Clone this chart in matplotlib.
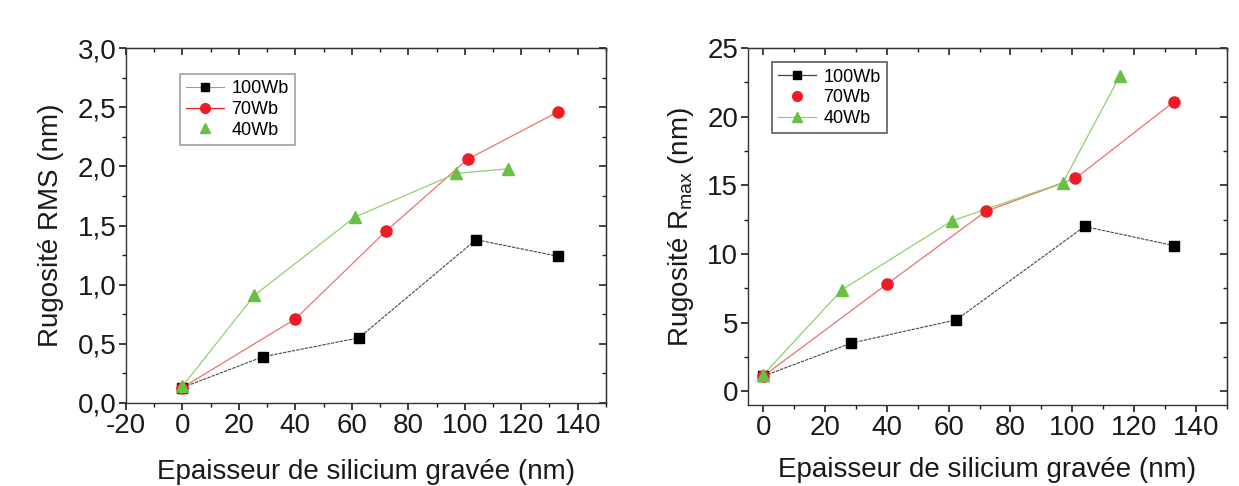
import matplotlib.pyplot as plt
from matplotlib.lines import Line2D
from matplotlib.ticker import FuncFormatter, MultipleLocator

plt.rcParams['font.family'] = ['Liberation Sans', 'DejaVu Sans']
plt.rcParams['mathtext.default'] = 'regular'
plt.rcParams['axes.unicode_minus'] = False

# Data
x_100 = [0, 28.5, 62.5, 104, 133]
x_70 = [0, 40, 72, 101, 133]
x_40 = [0, 25.5, 61, 97, 115.5]

rms_100 = [0.13, 0.39, 0.55, 1.38, 1.24]
rms_70 = [0.13, 0.71, 1.45, 2.06, 2.46]
rms_40 = [0.14, 0.91, 1.57, 1.94, 1.98]

rmax_100 = [1.1, 3.5, 5.2, 12.0, 10.6]
rmax_70 = [1.1, 7.8, 13.1, 15.5, 21.1]
rmax_40 = [1.2, 7.4, 12.4, 15.2, 23.0]

labels = ['100Wb', '70Wb', '40Wb']
red = '#ee1c25'
green = '#6abf45'
black = '#000000'
txt = '#1a1a1a'

fig = plt.figure(figsize=(12.39, 4.86), dpi=100)
ax1 = fig.add_axes([0.1017, 0.171, 0.3873, 0.730])
ax2 = fig.add_axes([0.6037, 0.167, 0.3863, 0.734])


def style_axes(ax, xmaj, xmin, ymaj, ymin):
    for s in ax.spines.values():
        s.set_linewidth(1.0)
        s.set_color('#333333')
    ax.xaxis.set_major_locator(MultipleLocator(xmaj))
    ax.xaxis.set_minor_locator(MultipleLocator(xmin))
    ax.yaxis.set_major_locator(MultipleLocator(ymaj))
    ax.yaxis.set_minor_locator(MultipleLocator(ymin))
    ax.tick_params(which='both', direction='out', labelsize=20, colors=txt, pad=2)
    ax.tick_params(which='major', length=5, width=1.2)
    ax.tick_params(which='minor', length=3, width=1.0)
    # top/right ticks pointing inward
    top = ax.secondary_xaxis('top')
    right = ax.secondary_yaxis('right')
    top.xaxis.set_major_locator(MultipleLocator(xmaj))
    top.xaxis.set_minor_locator(MultipleLocator(xmin))
    right.yaxis.set_major_locator(MultipleLocator(ymaj))
    right.yaxis.set_minor_locator(MultipleLocator(ymin))
    for a in (top, right):
        a.tick_params(which='both', direction='in', labelleft=False, labelright=False,
                      labeltop=False, labelbottom=False, colors='#222222')
        a.tick_params(which='major', length=5, width=1.2)
        a.tick_params(which='minor', length=3, width=1.0)


def draw(ax, y100, y70, y40):
    ax.plot(x_100, y100, color='#444444', lw=0.8, ls=(0, (3, 1)), zorder=2)
    ax.plot(x_100, y100, ls='none', marker='s', ms=7, color=black, zorder=3)
    ax.plot(x_70, y70, color='#f07070', lw=0.9, zorder=2)
    ax.plot(x_70, y70, ls='none', marker='o', ms=8, color=red, zorder=3)
    ax.plot(x_40, y40, color='#8fd070', lw=0.9, zorder=2)
    ax.plot(x_40, y40, ls='none', marker='^', ms=8, color=green, zorder=3)


# Left: RMS
draw(ax1, rms_100, rms_70, rms_40)
ax1.set_xlim(-20, 150)
ax1.set_ylim(0, 3.0)
style_axes(ax1, 20, 10, 0.5, 0.25)
ax1.yaxis.set_major_formatter(FuncFormatter(lambda v, p: f'{v:.1f}'.replace('.', ',')))
ax1.set_xlabel('Epaisseur de silicium gravée (nm)', fontsize=20, labelpad=15, color=txt)
ax1.set_ylabel('Rugosité RMS (nm)', fontsize=20, labelpad=10, color=txt)

h1 = [Line2D([], [], color='#999999', lw=0.8, marker='s', ms=6, mfc=black, mec=black),
      Line2D([], [], color=red, lw=0.9, marker='o', ms=7, mfc=red, mec=red),
      Line2D([], [], color='none', marker='^', ms=7, mfc=green, mec=green)]
leg1 = ax1.legend(h1, labels, loc='upper left', bbox_to_anchor=(0.1125, 0.927), fontsize=13,
                  frameon=True, fancybox=False, edgecolor='#888888', handlelength=2.1,
                  handletextpad=0.4, borderpad=0.35, labelspacing=0.2, borderaxespad=0)
leg1.get_frame().set_linewidth(1.2)

# Right: Rmax
draw(ax2, rmax_100, rmax_70, rmax_40)
ax2.set_xlim(-5, 150)
ax2.set_ylim(-1, 25)
style_axes(ax2, 20, 10, 5, 2.5)
ax2.set_xlabel('Epaisseur de silicium gravée (nm)', fontsize=20, labelpad=12, color=txt)
ax2.set_ylabel('Rugosité R$_{max}$ (nm)', fontsize=20, labelpad=8, color=txt)

h2 = [Line2D([], [], color='#444444', lw=0.9, marker='s', ms=6, mfc=black, mec=black),
      Line2D([], [], color='none', marker='o', ms=7, mfc=red, mec=red),
      Line2D([], [], color='#8fd070', lw=0.9, marker='^', ms=7, mfc=green, mec=green)]
leg2 = ax2.legend(h2, labels, loc='upper left', bbox_to_anchor=(0.05, 0.96), fontsize=13,
                  frameon=True, fancybox=False, edgecolor='#333333', handlelength=2.1,
                  handletextpad=0.4, borderpad=0.35, labelspacing=0.2, borderaxespad=0)
leg2.get_frame().set_linewidth(1.2)

fig.savefig('out.png', dpi=100)
